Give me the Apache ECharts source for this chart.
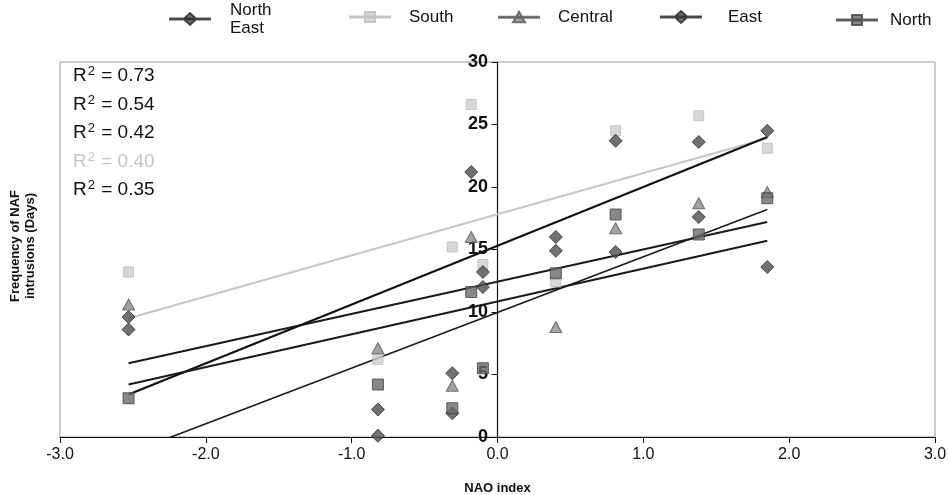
<!DOCTYPE html>
<html>
<head>
<meta charset="utf-8">
<script src="https://cdn.jsdelivr.net/npm/echarts@6/dist/echarts.min.js"></script>
<style>
  html, body { margin: 0; padding: 0; background: #fff; }
  #chart { width: 950px; height: 495px; }
</style>
</head>
<body>
<div id="chart"></div>
<script>
// NAO index of each year (x values)
var naoIndex = [-2.53, -0.82, -0.31, -0.18, -0.10, 0.40, 0.81, 1.38, 1.85];

// frequency of NAF intrusions (days) per region
var northEast = [9.6, 2.2, 1.9, null, 12.0, 14.9, 14.8, 17.6, 13.6];
var south     = [13.2, 6.2, 15.2, 26.6, 13.8, 12.4, 24.5, 25.7, 23.1];
var central   = [10.6, 7.1, 4.1, 16.0, null, 8.8, 16.7, 18.7, 19.6];
var east      = [8.6, 0.1, 5.1, 21.2, 13.2, 16.0, 23.7, 23.6, 24.5];
var north     = [3.1, 4.2, 2.3, 11.6, 5.5, 13.1, 17.8, 16.2, 19.1];

// linear trend lines, value at first and last NAO index
var trendX         = [-2.53, 1.85];
var northEastTrend = [5.9, 17.2];
var southTrend     = [9.5, 23.9];
var centralTrend   = [-1.3, 18.2];
var eastTrend      = [3.4, 24.0];
var northTrend     = [4.2, 15.7];

var rSquared = ['0.73', '0.54', '0.42', '0.40', '0.35'];
var rSquaredColors = ['#111', '#111', '#111', '#c4c4c4', '#111'];

var dom = document.getElementById('chart');
var myChart = echarts.init(dom, null, { renderer: 'canvas' });

function pairs(ys) {
    return naoIndex.map(function (x, i) { return ys[i] == null ? null : [x, ys[i]]; })
        .filter(function (p) { return p; });
}
function trend(ys) {
    return [[trendX[0], ys[0]], [trendX[1], ys[1]]];
}

var lineBar = 'M0,5.4L40,5.4L40,6.6L0,6.6Z ';
var icons = {
    diamond: 'path://' + lineBar + 'M20,0L26.5,6L20,12L13.5,6Z',
    square: 'path://' + lineBar + 'M15,1L25,1L25,11L15,11Z',
    triangle: 'path://' + lineBar + 'M20,0.5L26,11L14,11Z'
};

function legendAt(name, icon, left, top, gap) {
    return {
        left: left, top: top,
        itemWidth: 40, itemHeight: 12,
        data: [{ name: name, icon: icon }],
        formatter: function (n) { return n === 'North East' ? 'North\nEast' : n; },
        textStyle: { fontFamily: 'Liberation Sans', fontSize: 17, color: '#111', padding: [0, 0, 0, gap], lineHeight: 18 }
    };
}

var trendStyle = function (color, width) {
    return { color: color, width: width };
};

var rText = rSquared.map(function (v, i) {
    return {
        type: 'text', left: 73, top: 65 + i * 28.5,
        style: {
            text: '{a|R}{s|2}{a| = ' + v + '}',
            rich: {
                a: { fontFamily: 'Liberation Sans', fontSize: 19, fill: rSquaredColors[i] },
                s: { fontFamily: 'Liberation Sans', fontSize: 13, fill: rSquaredColors[i], padding: [0, 1, 9, 1] }
            }
        }
    };
});

var option = {
    animation: false,
    backgroundColor: '#fff',
    legend: [
        legendAt('North East', icons.diamond, 164, -4, 15),
        legendAt('South', icons.square, 344, 3, 14),
        legendAt('Central', icons.triangle, 493, 3, 14),
        legendAt('East', icons.diamond, 655, 3, 22),
        legendAt('North', icons.square, 831, 6, 8)
    ],
    grid: {
        left: 60, right: 15, top: 62, bottom: 58, containLabel: false, outerBoundsMode: 'none',
        show: true, borderColor: '#9a9a9a', borderWidth: 1
    },
    xAxis: {
        type: 'value', min: -3, max: 3, interval: 1,
        name: 'NAO index', nameLocation: 'middle', nameGap: 45,
        nameTextStyle: { fontFamily: 'Liberation Sans', fontWeight: 'bold', fontSize: 13, color: '#111' },
        axisLine: { lineStyle: { color: '#111', width: 1.2 } },
        axisTick: { length: 6, lineStyle: { color: '#111' } },
        axisLabel: {
            fontFamily: 'Liberation Sans', fontSize: 16, color: '#111', margin: 10,
            formatter: function (v) { return v.toFixed(1); }
        },
        splitLine: { show: false }
    },
    yAxis: {
        type: 'value', min: 0, max: 30, interval: 5,
        axisLine: { show: true, onZero: true, lineStyle: { color: '#111', width: 1.2 } },
        axisTick: { show: true, length: 6, lineStyle: { color: '#111' } },
        axisLabel: { fontFamily: 'Liberation Sans', fontSize: 18, fontWeight: 'bold', color: '#111', margin: -428 },
        splitLine: { show: false }
    },
    graphic: rText.concat([{
        type: 'text', x: 23, y: 246, rotation: Math.PI / 2,
        style: {
            text: 'Frequency of NAF\nintrusions (Days)', align: 'center', verticalAlign: 'middle',
            fontFamily: 'Liberation Sans', fontSize: 13, fontWeight: 'bold', fill: '#111', lineHeight: 15
        }
    }]),
    series: [
        { name: 'NE trend', type: 'line', data: trend(northEastTrend), symbol: 'none', silent: true, lineStyle: trendStyle('#1a1a1a', 2), z: 1 },
        { name: 'South trend', type: 'line', data: trend(southTrend), symbol: 'none', silent: true, lineStyle: trendStyle('#c6c6c6', 2), z: 1 },
        { name: 'Central trend', type: 'line', data: trend(centralTrend), symbol: 'none', silent: true, lineStyle: trendStyle('#1a1a1a', 1.6), z: 1 },
        { name: 'East trend', type: 'line', data: trend(eastTrend), symbol: 'none', silent: true, lineStyle: trendStyle('#111', 2.2), z: 1 },
        { name: 'North trend', type: 'line', data: trend(northTrend), symbol: 'none', silent: true, lineStyle: trendStyle('#1a1a1a', 2), z: 1 },
        { name: 'North East', type: 'scatter', data: pairs(northEast), symbol: 'diamond', symbolSize: [13, 13],
          itemStyle: { color: '#4d4d4d', borderColor: '#2a2a2a', borderWidth: 1 }, z: 3 },
        { name: 'South', type: 'scatter', data: pairs(south), symbol: 'rect', symbolSize: 10,
          itemStyle: { color: '#cdcdcd', borderColor: '#bcbcbc', borderWidth: 1 }, z: 3 },
        { name: 'Central', type: 'scatter', data: pairs(central), symbol: 'triangle', symbolSize: [12, 11],
          itemStyle: { color: '#8c8c8c', borderColor: '#555', borderWidth: 1 }, z: 3 },
        { name: 'East', type: 'scatter', data: pairs(east), symbol: 'diamond', symbolSize: [13, 13],
          itemStyle: { color: '#4d4d4d', borderColor: '#2a2a2a', borderWidth: 1 }, z: 3 },
        { name: 'North', type: 'scatter', data: pairs(north), symbol: 'rect', symbolSize: 11,
          itemStyle: { color: '#6a6a6a', borderColor: '#444', borderWidth: 1 }, z: 3 }
    ]
};

if (option && typeof option === 'object') {
    myChart.setOption(option);
}

window.addEventListener('resize', myChart.resize);
</script>
</body>
</html>
